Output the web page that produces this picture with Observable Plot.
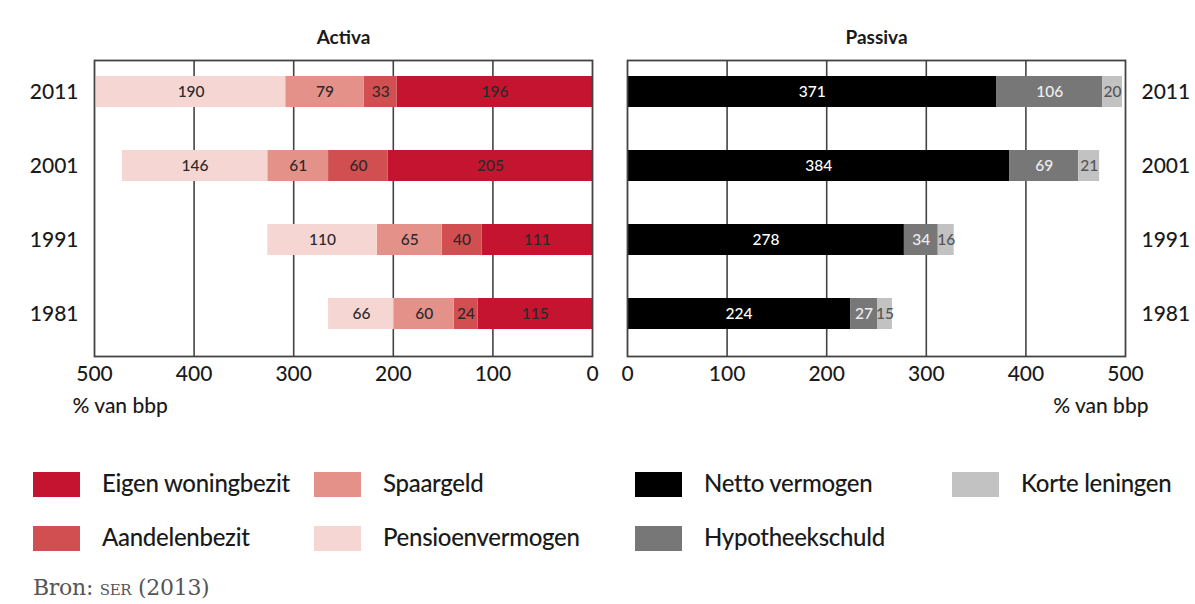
<!DOCTYPE html>
<html><head><meta charset="utf-8">
<script src="https://cdn.jsdelivr.net/npm/d3@7"></script>
<script src="https://cdn.jsdelivr.net/npm/@observablehq/plot@0.6"></script>
<style>
body{margin:0;background:#fff;font-family:Lato,sans-serif;color:#1a1a1a;}
#chart{position:relative;width:1195px;height:604px;overflow:hidden;}
#left{position:absolute;left:0;top:0;}
#right{position:absolute;left:610px;top:0;}
.sw{position:absolute;width:47px;height:25px;}
.lt{position:absolute;font-size:24px;line-height:25px;white-space:nowrap;color:#1a1a1a;letter-spacing:-0.3px;font-weight:500;}
#bron{position:absolute;left:33px;top:575px;font-family:"DejaVu Serif",serif;font-size:22px;color:#555;letter-spacing:-0.3px;}
</style></head><body><div id="chart"><div id="left"></div><div id="right"></div></div>
<script>
const years = ["2011", "2001", "1991", "1981"];
const activaSeries = ["Eigen woningbezit", "Aandelenbezit", "Spaargeld", "Pensioenvermogen"];
const eigenWoningbezit = [196, 205, 111, 115];
const aandelenbezit = [33, 60, 40, 24];
const spaargeld = [79, 61, 65, 60];
const pensioenvermogen = [190, 146, 110, 66];
const passivaSeries = ["Netto vermogen", "Hypotheekschuld", "Korte leningen"];
const nettoVermogen = [371, 384, 278, 224];
const hypotheekschuld = [106, 69, 34, 27];
const korteLeningen = [20, 21, 16, 15];
const xTicks = [0, 100, 200, 300, 400, 500];
const gridTicks = [100, 200, 300, 400];
const activaColors = ["#c5142f", "#d14f50", "#e4918a", "#f6d6d3"];
const passivaColors = ["#000000", "#777777", "#c2c2c2"];
const activaLabelColors = ["#2a2a2a", "#2a2a2a", "#2a2a2a", "#2a2a2a"];
const passivaLabelColors = ["#ffffff", "#eeeeee", "#555555"];

const activaValues = [eigenWoningbezit, aandelenbezit, spaargeld, pensioenvermogen];
const passivaValues = [nettoVermogen, hypotheekschuld, korteLeningen];

const activa = activaSeries.flatMap((s, i) => activaValues[i].map((v, j) => ({series: s, year: years[j], value: v, color: activaColors[i], labelColor: activaLabelColors[i]})));
const passiva = passivaSeries.flatMap((s, i) => passivaValues[i].map((v, j) => ({series: s, year: years[j], value: v, color: passivaColors[i], labelColor: passivaLabelColors[i]})));

const H = 440;
const common = {
  height: H, marginTop: 60, marginBottom: H - 356,
  style: {fontFamily: "Lato, sans-serif", color: "#1a1a1a", background: "transparent"}
};
const yScale = {domain: years, range: [31, 374], padding: 0.585};

function panel(data, title, reverse, width, ml, mr, yAnchor) {
  return Plot.plot({
    ...common, width, marginLeft: ml, marginRight: mr,
    x: {domain: [0, 500], reverse},
    y: yScale,
    marks: [
      Plot.ruleX(gridTicks, {stroke: "#444", strokeWidth: 1.6}),
      Plot.barX(data, Plot.stackX({x: "value", y: "year", fill: "color"})),
      Plot.text(data, Plot.stackX({x: "value", y: "year", text: d => String(d.value), fill: "labelColor", fontSize: 15.5, fontWeight: 500})),
      Plot.frame({stroke: "#444", strokeWidth: 1.8}),
      Plot.axisX(xTicks, {tickSize: 0, tickPadding: 10, fontSize: 21, fontWeight: 500, label: null}),
      Plot.axisY({anchor: yAnchor, tickSize: 0, tickPadding: 16, fontSize: 21, fontWeight: 500, label: null}),
      Plot.text([title], {frameAnchor: "top", dy: -30, fontSize: 19, fontWeight: "bold"}),
      Plot.text(["% van bbp"], reverse
        ? {frameAnchor: "bottom-left", textAnchor: "start", dx: -22, dy: 56, fontSize: 21, fontWeight: 500}
        : {frameAnchor: "bottom-right", textAnchor: "end", dx: 23, dy: 56, fontSize: 21, fontWeight: 500})
    ]
  });
}

document.getElementById("left").append(panel(activa, "Activa", true, 610, 94, 18, "left"));
document.getElementById("right").append(panel(passiva, "Passiva", false, 585, 17, 70, "right"));

// legend
const legendNames = [...activaSeries, ...passivaSeries];
const legendColors = [...activaColors, ...passivaColors];
const legendCol = [0, 0, 1, 1, 2, 2, 3];
const legendRow = [0, 1, 0, 1, 0, 1, 0];
const colX = [33, 314, 635, 952];
const rowY = [472, 526];
const chart = document.getElementById("chart");
legendNames.forEach((name, i) => {
  const sw = document.createElement("div");
  sw.className = "sw";
  sw.style.left = colX[legendCol[i]] + "px";
  sw.style.top = rowY[legendRow[i]] + "px";
  sw.style.background = legendColors[i];
  chart.append(sw);
  const t = document.createElement("div");
  t.className = "lt";
  t.style.left = (colX[legendCol[i]] + 69) + "px";
  t.style.top = (rowY[legendRow[i]] - 2) + "px";
  t.textContent = name;
  chart.append(t);
});
const bron = document.createElement("div");
bron.id = "bron";
bron.innerHTML = 'Bron: <span style="font-variant:small-caps">ser</span> (2013)';
chart.append(bron);
</script>
</body></html>
